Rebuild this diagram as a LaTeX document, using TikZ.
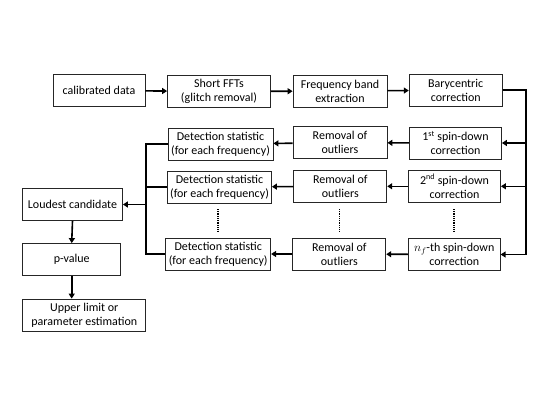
\documentclass[tikz,border=0pt]{standalone}
\usepackage{fontspec}
\setmainfont{Carlito}
\usetikzlibrary{arrows.meta,calc}
\begin{document}
\begin{tikzpicture}[x=1pt,y=-1pt,
  box/.style={draw=black!85,line width=0.8pt,minimum height=32pt,inner sep=0pt,align=center,font=\fontsize{12}{14}\selectfont},
  conn/.style={line width=1.6pt,draw=black},
  arr/.style={conn,-{Triangle[length=5pt,width=6pt]}},
  dots/.style={line width=1.4pt,dash pattern=on 1pt off 0.8pt}]
\path[use as bounding box] (0,0) rectangle (545,409);
% row 1
\node[box,minimum width=92pt] (cal) at (99,90.5) {calibrated data};
\node[box,minimum width=103pt] (fft) at (219,91.5) {Short FFTs\\(glitch removal)};
\node[box,minimum width=94pt] (feb) at (340,91) {Frequency band\\extraction};
\node[box,minimum width=93pt] (bary) at (455.7,90.2) {Barycentric\\correction};
% row 2
\node[box,minimum width=105pt] (det1) at (220.5,144) {Detection statistic\\(for each frequency)};
\node[box,minimum width=94pt] (rem1) at (340,142.7) {Removal of\\outliers};
\node[box,minimum width=92pt] (sd1) at (455.5,143) {1\textsuperscript{st} spin-down\\correction};
% row 3
\node[box,minimum width=104pt] (det2) at (219.5,187) {Detection statistic\\(for each frequency)};
\node[box,minimum width=93pt] (rem2) at (340.3,186.3) {Removal of\\outliers};
\node[box,minimum width=92pt] (sd2) at (454.5,186.3) {2\textsuperscript{nd} spin-down\\correction};
% row 4
\node[box,minimum width=105pt] (det3) at (218.2,254) {Detection statistic\\(for each frequency)};
\node[box,minimum width=93pt] (rem3) at (339.3,254) {Removal of\\outliers};
\node[box,minimum width=92pt] (sdn) at (454.2,254.5) {$n_f$-th spin-down\\correction};
% left column
\node[box,minimum width=100pt] (loud) at (72.5,204.5) {Loudest candidate};
\node[box,minimum width=98pt] (pval) at (71.7,259.5) {p-value};
\node[box,minimum width=123pt] (upper) at (84.3,315) {Upper limit or\\parameter estimation};
% helper coordinates
\coordinate (rx) at (526,0);
\coordinate (lx) at (146,0);
% row 1 arrows
\draw[arr] (cal) -- (fft);
\draw[arr] (fft) -- (feb);
\draw[arr] (feb) -- (bary);
% right bus
\draw[arr] (bary.east) -| (sdn.east -| rx) -- (sdn.east);
\draw[arr] (sd1.east -| rx) -- (sd1.east);
\draw[arr] (sd2.east -| rx) -- (sd2.east);
% leftward arrows
\draw[arr] (sd1) -- (rem1);
\draw[arr] (rem1) -- (det1);
\draw[arr] (sd2) -- (rem2);
\draw[arr] (rem2) -- (det2);
\draw[arr] (sdn) -- (rem3);
\draw[arr] (rem3) -- (det3);
% left bus
\draw[conn] (det1.west) -- (det1.west -| lx) -- (det3.west -| lx) -- (det3.west);
\draw[conn] (det2.west) -- (det2.west -| lx);
\draw[arr] (loud.east -| lx) -- (loud.east);
% down arrows
\draw[arr] (loud.south) -- (pval.north);
\draw[arr] (pval.south) -- (pval.south |- upper.north);
% dotted ellipses
\coordinate (d1) at (218,209); \coordinate (d1b) at (218,232);
\coordinate (d2) at (339.3,209); \coordinate (d2b) at (339.3,232);
\coordinate (d3) at (454,209); \coordinate (d3b) at (454,232);
\draw[dots] (d1) -- (d1b);
\draw[dots] (d2) -- (d2b);
\draw[dots] (d3) -- (d3b);
\end{tikzpicture}
\end{document}
